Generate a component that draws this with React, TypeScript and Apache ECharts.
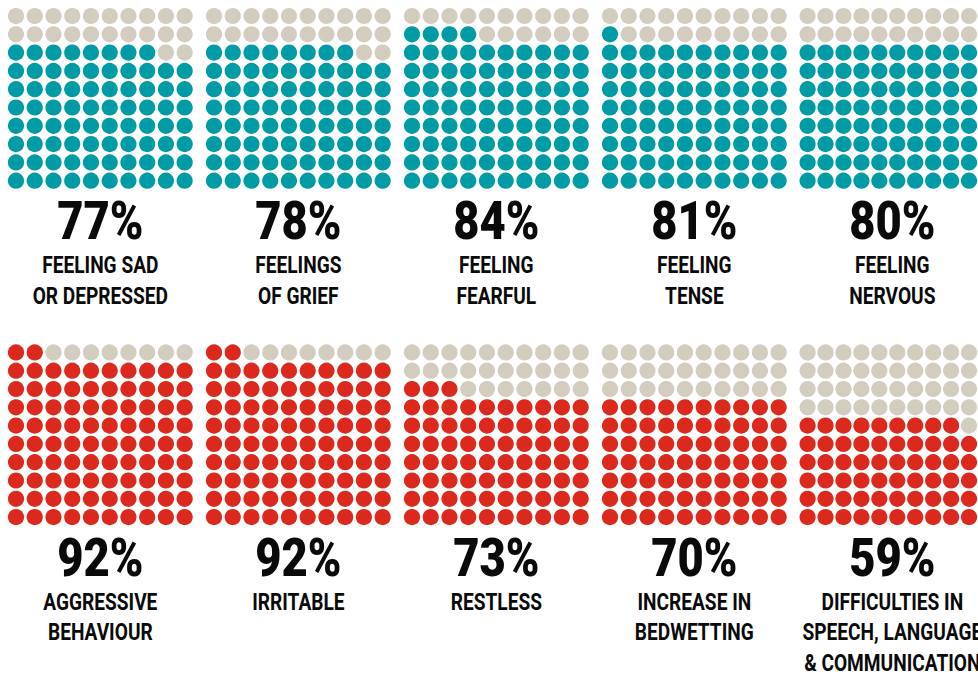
import React, { useEffect, useRef } from "react";
import * as echarts from "echarts";

// ---- data ----
const percentLabels = ["77%", "78%", "84%", "81%", "80%", "92%", "92%", "73%", "70%", "59%"];
// number of coloured dots visible in each waffle (out of 100)
const filledDots = [78, 78, 84, 81, 80, 92, 92, 73, 70, 59];
const categoryLines: string[][] = [
  ["FEELING SAD", "OR DEPRESSED"],
  ["FEELINGS", "OF GRIEF"],
  ["FEELING", "FEARFUL"],
  ["FEELING", "TENSE"],
  ["FEELING", "NERVOUS"],
  ["AGGRESSIVE", "BEHAVIOUR"],
  ["IRRITABLE"],
  ["RESTLESS"],
  ["INCREASE IN", "BEDWETTING"],
  ["DIFFICULTIES IN", "SPEECH, LANGUAGE", "& COMMUNICATION"],
];
const groupOfChart = [0, 0, 0, 0, 0, 1, 1, 1, 1, 1];
const groupColors = ["#009ba4", "#dc291e"];
const emptyColor = "#d3cdbf";

// ---- layout ----
const W = 978;
const H = 675;
const COLS = 5;
const PITCH_X = 198;
const DOT_DX = 18.74;
const DOT_DY = 18.3;
const FIRST_X = 16;
const ROW_FIRST_Y = [16, 352.4];
const FONT = "Roboto, 'Noto Sans', sans-serif";

export default function App() {
  const ref = useRef<HTMLDivElement>(null);
  useEffect(() => {
    document.body.style.margin = "0";
    const chart = echarts.init(ref.current!, undefined, { renderer: "svg" });
    const grids: any[] = [];
    const xAxes: any[] = [];
    const yAxes: any[] = [];
    const series: any[] = [];
    const graphics: any[] = [];

    percentLabels.forEach((pct, i) => {
      const c = i % COLS;
      const r = Math.floor(i / COLS);
      const left = FIRST_X - DOT_DX / 2 + c * PITCH_X;
      const top = ROW_FIRST_Y[r] - DOT_DY / 2;
      grids.push({ left, top, width: DOT_DX * 10, height: DOT_DY * 10 });
      xAxes.push({ type: "value", gridIndex: i, min: -0.5, max: 9.5, show: false });
      yAxes.push({ type: "value", gridIndex: i, min: -0.5, max: 9.5, inverse: true, show: false });
      const n = filledDots[i];
      const data: any[] = [];
      for (let row = 0; row < 10; row++) {
        for (let col = 0; col < 10; col++) {
          const filled = (9 - row) * 10 + col < n;
          data.push({
            value: [col, row],
            itemStyle: { color: filled ? groupColors[groupOfChart[i]] : emptyColor, opacity: 1 },
          });
        }
      }
      series.push({
        type: "scatter",
        xAxisIndex: i,
        yAxisIndex: i,
        symbol: "circle",
        symbolSize: 16.2,
        silent: true,
        itemStyle: { opacity: 1 },
        data,
      });

      const cx = left + DOT_DX * 5;
      const baseY = ROW_FIRST_Y[r] - 16;
      graphics.push({
        type: "text",
        x: cx,
        y: baseY + 221,
        scaleX: 0.84,
        style: {
          text: pct,
          fontFamily: FONT,
          fontWeight: 900,
          fontSize: 54,
          fill: "#0a0a0a",
          align: "center",
          verticalAlign: "middle",
          textAlign: "center",
          textVerticalAlign: "middle",
        },
      });
      categoryLines[i].forEach((line, k) => {
        graphics.push({
          type: "text",
          x: cx,
          y: baseY + 265 + k * 30.6,
          scaleX: 0.78,
          style: {
            text: line,
            fontFamily: FONT,
            fontWeight: "bold",
            fontSize: 24.5,
            fill: "#0a0a0a",
            align: "center",
            verticalAlign: "middle",
            textAlign: "center",
            textVerticalAlign: "middle",
          },
        });
      });
    });

    chart.setOption({
      animation: false,
      backgroundColor: "#ffffff",
      grid: grids,
      xAxis: xAxes,
      yAxis: yAxes,
      series,
      graphic: graphics,
    });
    return () => chart.dispose();
  }, []);
  return <div ref={ref} style={{ width: W, height: H }} />;
}
